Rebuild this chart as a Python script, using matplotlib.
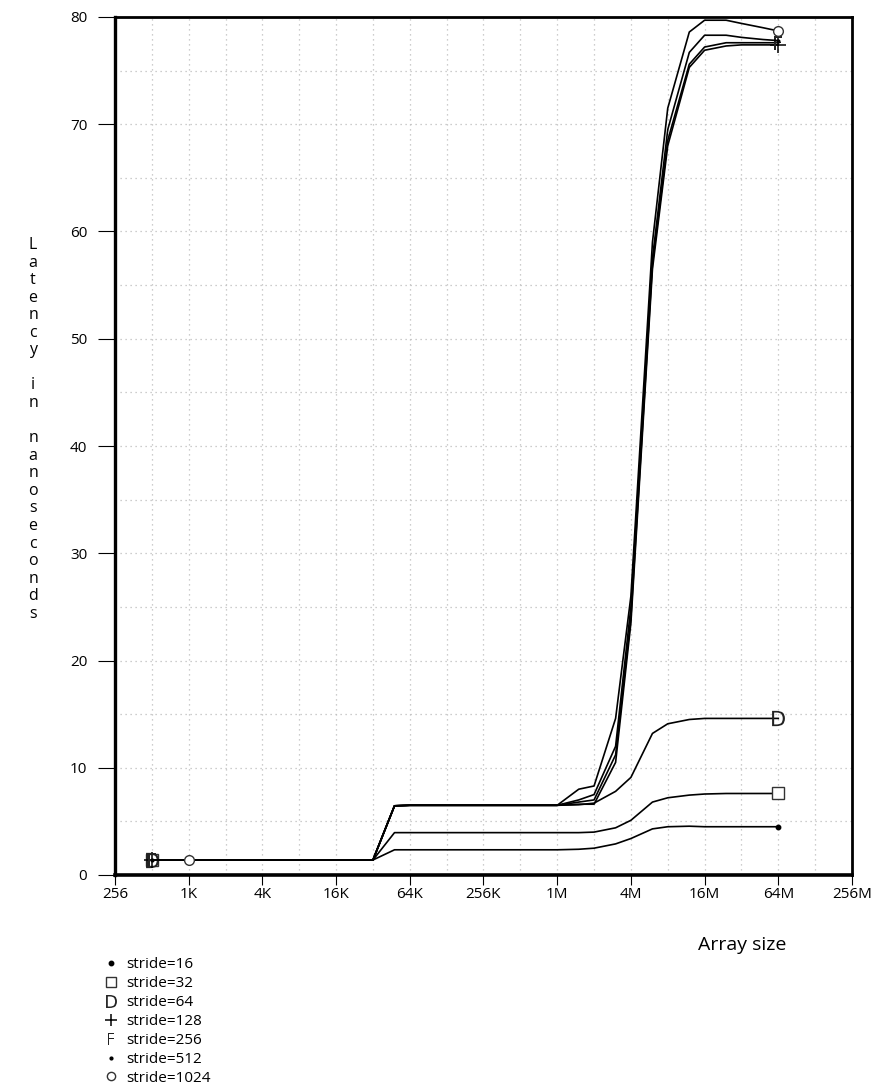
import matplotlib
matplotlib.use("Agg")
import matplotlib.pyplot as plt
from matplotlib.lines import Line2D
from matplotlib.ticker import FixedLocator, FixedFormatter, NullFormatter

plt.rcParams['font.family'] = ['Open Sans', 'DejaVu Sans']

# Array sizes in KB (lmbench lat_mem_rd steps)
sizes_kb = [0.5, 1, 2, 3, 4, 6, 8, 12, 16, 24, 32, 48, 64, 96, 128, 192, 256,
            384, 512, 768, 1024, 1536, 2048, 3072, 4096, 6144, 8192, 12288,
            16384, 24576, 32768, 49152, 65536]

l1 = [1.4] * 11
stride16 = l1 + [2.35] * 10 + [2.4, 2.5, 2.9, 3.4, 4.3, 4.5, 4.55, 4.5, 4.5, 4.5, 4.5, 4.5]
stride32 = l1 + [3.95] * 10 + [3.95, 4.0, 4.4, 5.1, 6.8, 7.2, 7.45, 7.55, 7.6, 7.6, 7.6, 7.6]
stride64 = l1 + [6.45] + [6.5] * 9 + [6.55, 6.7, 7.8, 9.1, 13.2, 14.1, 14.5, 14.6, 14.6, 14.6, 14.6, 14.6]
stride128 = l1 + [6.45] + [6.5] * 9 + [6.6, 6.6, 10.5, 23.5, 56.5, 68.0, 75.3, 76.9, 77.3, 77.4, 77.4, 77.4]
stride256 = l1 + [6.45] + [6.5] * 9 + [6.8, 7.0, 11.2, 24.0, 57.0, 68.5, 75.6, 77.2, 77.6, 77.6, 77.6, 77.6]
stride512 = l1 + [6.45] + [6.5] * 9 + [7.0, 7.5, 12.0, 25.0, 57.5, 69.5, 76.7, 78.3, 78.3, 78.1, 77.9, 77.8]
stride1024 = [1.4] * 10 + [6.45] + [6.5] * 9 + [8.0, 8.3, 14.6, 26.0, 59.0, 71.5, 78.6, 79.7, 79.7, 79.4, 79.0, 78.7]

labels = ["stride=16", "stride=32", "stride=64", "stride=128",
          "stride=256", "stride=512", "stride=1024"]

xtick_vals = [0.25, 1, 4, 16, 64, 256, 1024, 4096, 16384, 65536, 262144]
xtick_labels = ["256", "1K", "4K", "16K", "64K", "256K", "1M", "4M", "16M", "64M", "256M"]
ytick_vals = [0, 10, 20, 30, 40, 50, 60, 70, 80]

W, H = 879, 1092
fig = plt.figure(figsize=(W / 100, H / 100), dpi=100)
ax = fig.add_axes([115 / W, 1 - 875 / H, (852 - 115) / W, (875 - 17) / H])

series = [
    (sizes_kb, stride16, dict(marker='o', ms=3.2, mfc='black', mec='black')),
    (sizes_kb, stride32, dict(marker='s', ms=8, mfc='white', mec='#333333', mew=1.0)),
    (sizes_kb, stride64, dict(marker=r'$\mathrm{D}$', ms=11, mfc='#222222', mec='#222222', mew=0)),
    (sizes_kb, stride128, dict(marker='+', ms=11, mec='black', mew=1.1)),
    (sizes_kb, stride256, dict(marker=r'$\mathrm{F}$', ms=10, mfc='#222222', mec='#222222', mew=0)),
    (sizes_kb, stride512, dict(marker='o', ms=2.0, mfc='black', mec='black')),
    (sizes_kb[1:], stride1024, dict(marker='o', ms=7, mfc='white', mec='#333333', mew=1.0)),
]

handles = []
for (xs, ys, mk), lab in zip(series, labels):
    ax.plot(xs, ys, color='black', lw=1.2, markevery=[0, len(xs) - 1],
            clip_on=False, zorder=3, **mk)
    hmk = dict(mk)
    hmk['ms'] = mk['ms'] * 0.85 if mk['ms'] > 5 else mk['ms']
    handles.append(Line2D([], [], linestyle='none', color='black', **hmk))

ax.set_xscale('log', base=2)
ax.set_xlim(0.25, 262144)
ax.set_ylim(0, 80)

ax.xaxis.set_major_locator(FixedLocator(xtick_vals))
ax.xaxis.set_major_formatter(FixedFormatter(xtick_labels))
ax.xaxis.set_minor_locator(FixedLocator([v * 2 for v in xtick_vals[:-1]]))
ax.xaxis.set_minor_formatter(NullFormatter())
ax.yaxis.set_major_locator(FixedLocator(ytick_vals))
ax.yaxis.set_minor_locator(FixedLocator([5, 15, 25, 35, 45, 55, 65, 75]))

ax.grid(True, which='both', color='#bdbdbd', linestyle=(0, (1, 3)), lw=0.9)
ax.set_axisbelow(True)

ax.tick_params(axis='x', which='major', direction='out', length=7, width=0.8,
               labelsize=11, pad=2, colors='black')
ax.tick_params(axis='y', which='major', direction='out', length=12, width=0.8,
               labelsize=11, pad=8, colors='black')
ax.tick_params(which='minor', length=0)

for side, lw in [('left', 2.4), ('bottom', 2.6), ('top', 2.0), ('right', 2.0)]:
    ax.spines[side].set_linewidth(lw)
    ax.spines[side].set_color('black')

# vertical stacked y label
ylab = "Latency in nanoseconds"
fig.text(33 / W, 1 - 237 / H, "\n".join(ylab), ha='center', va='top',
         fontsize=11.5, linespacing=1.13)

fig.text(742 / W, 1 - 945 / H, "Array size", ha='center', va='center', fontsize=14)

fig.legend(handles, labels, loc='upper left', bbox_to_anchor=(103 / W, 1 - 957 / H),
           frameon=False, fontsize=11, handlelength=1.1, handletextpad=0.45,
           labelspacing=0.26, borderpad=0, borderaxespad=0)

fig.savefig("out.png", dpi=100)
